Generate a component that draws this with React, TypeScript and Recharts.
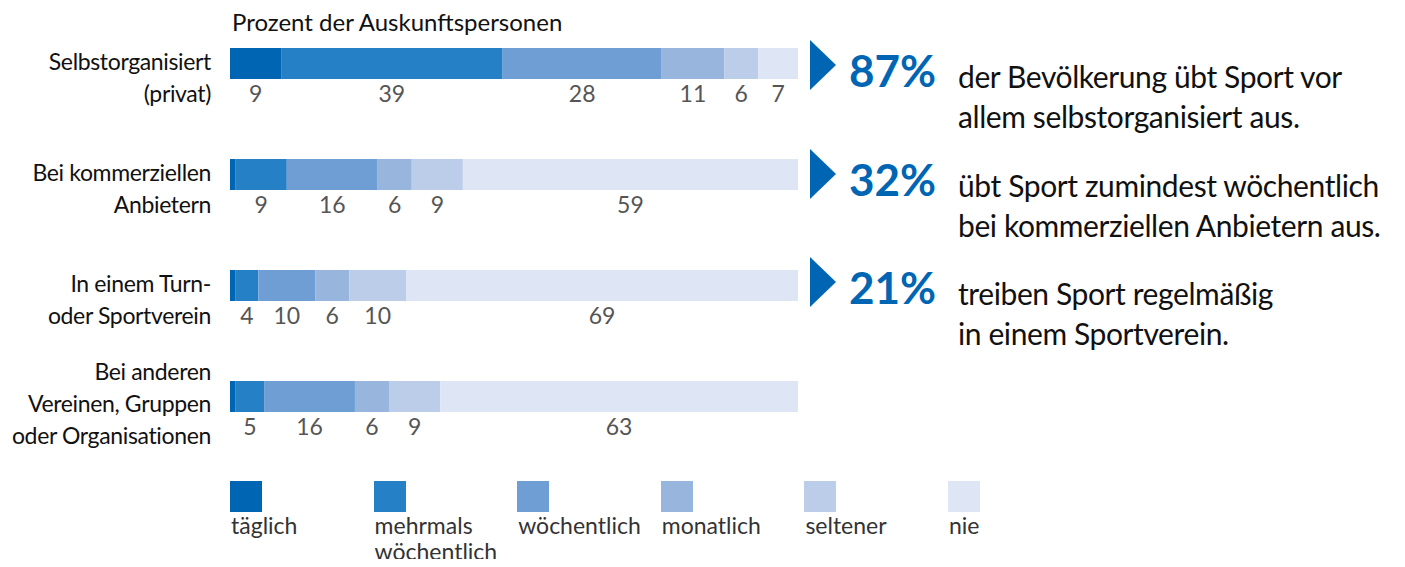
import React from "react";
import { BarChart, Bar, XAxis, YAxis, LabelList } from "recharts";

// Zeilen (Kategorien), Zeilenumbruch mit \n
const categories = [
  "Selbstorganisiert\n(privat)",
  "Bei kommerziellen\nAnbietern",
  "In einem Turn-\noder Sportverein",
  "Bei anderen\nVereinen, Gruppen\noder Organisationen",
];

// Werte in Prozent je Häufigkeit
const daily = [9, 1, 1, 1];
const severalWeekly = [39, 9, 4, 5];
const weekly = [28, 16, 10, 16];
const monthly = [11, 6, 6, 6];
const rarely = [6, 9, 10, 9];
const never = [7, 59, 69, 63];

const seriesNames = ["täglich", "mehrmals\nwöchentlich", "wöchentlich", "monatlich", "seltener", "nie"];
const seriesColors = ["#0066b3", "#2680c5", "#6f9ed4", "#98b5de", "#bccdea", "#dee5f4"];
const seriesKeys = ["daily", "severalWeekly", "weekly", "monthly", "rarely", "never"];

const highlightValues = ["87%", "32%", "21%"];
const highlightTexts = [
  ["der Bevölkerung übt Sport vor", "allem selbstorganisiert aus."],
  ["übt Sport zumindest wöchentlich", "bei kommerziellen Anbietern aus."],
  ["treiben Sport regelmäßig", "in einem Sportverein."],
];

const data = categories.map((name, i) => ({
  name,
  daily: daily[i],
  severalWeekly: severalWeekly[i],
  weekly: weekly[i],
  monthly: monthly[i],
  rarely: rarely[i],
  never: never[i],
}));

const FONT = "Lato, 'Open Sans', sans-serif";
const BLUE = "#0066b3";

const CategoryTick = (props: any) => {
  const { x, y, payload } = props;
  const lines = String(payload.value).split("\n");
  const start = lines.length > 2 ? -17 : 6;
  return (
    <text
      x={x}
      y={y}
      textAnchor="end"
      fill="#111"
      fontSize={23}
      letterSpacing={-0.35}
      fontFamily={FONT}
    >
      {lines.map((l, i) => (
        <tspan key={i} x={x} y={y + start + i * 32}>
          {l}
        </tspan>
      ))}
    </text>
  );
};

const valueLabel = (props: any) => {
  const { x, y, width, height, value } = props;
  if (value < 2) return null;
  return (
    <text
      x={x + width / 2}
      y={y + height + 23}
      textAnchor="middle"
      fill="#555"
      fontSize={23}
      fontFamily={FONT}
    >
      {value}
    </text>
  );
};

const rowTops = [32, 141, 249];

export default function App() {
  return (
    <div style={{ position: "relative", width: 1389, height: 551, fontFamily: FONT, color: "#111" }}>
      <div
        style={{
          position: "absolute",
          left: 224,
          top: 0,
          fontSize: 24,
          lineHeight: "28px",
          whiteSpace: "nowrap",
        }}
      >
        Prozent der Auskunftspersonen
      </div>

      <div style={{ position: "absolute", left: -8, top: 0 }}>
        <BarChart
          width={798}
          height={445}
          data={data}
          layout="vertical"
          margin={{ top: 0, right: 0, bottom: 1, left: 0 }}
          barSize={31}
        >
          <XAxis type="number" domain={[0, 100]} hide />
          <YAxis
            type="category"
            dataKey="name"
            width={230}
            axisLine={false}
            tickLine={false}
            tickSize={0}
            tickMargin={19}
            tick={<CategoryTick />}
            interval={0}
          />
          {seriesKeys.map((k, i) => (
            <Bar key={k} dataKey={k} stackId="a" fill={seriesColors[i]} isAnimationActive={false}>
              <LabelList dataKey={k} content={valueLabel} />
            </Bar>
          ))}
        </BarChart>
      </div>

      {highlightValues.map((v, i) => (
        <React.Fragment key={v}>
          <svg
            width={26}
            height={50}
            style={{ position: "absolute", left: 802, top: rowTops[i] }}
          >
            <polygon points="0,0 26,25 0,50" fill={BLUE} />
          </svg>
          <div
            style={{
              position: "absolute",
              left: 841,
              top: rowTops[i] + 6,
              fontSize: 44,
              lineHeight: "48px",
              fontWeight: 700,
              color: BLUE,
              whiteSpace: "nowrap",
            }}
          >
            {v}
          </div>
          <div
            style={{
              position: "absolute",
              left: 950,
              top: rowTops[i] + 16,
              fontSize: 30,
              lineHeight: "40px",
              letterSpacing: -0.4,
              whiteSpace: "nowrap",
            }}
          >
            {highlightTexts[i].map((t) => (
              <div key={t}>{t}</div>
            ))}
          </div>
        </React.Fragment>
      ))}

      {seriesNames.map((n, i) => (
        <React.Fragment key={n}>
          <div
            style={{
              position: "absolute",
              left: 222 + i * 143.6,
              top: 473,
              width: 32,
              height: 31,
              background: seriesColors[i],
            }}
          />
          <div
            style={{
              position: "absolute",
              left: 223 + i * 143.6,
              top: 504,
              fontSize: 23,
              lineHeight: "26px",
              color: "#333",
              whiteSpace: "nowrap",
            }}
          >
            {n.split("\n").map((l) => (
              <div key={l}>{l}</div>
            ))}
          </div>
        </React.Fragment>
      ))}
    </div>
  );
}
